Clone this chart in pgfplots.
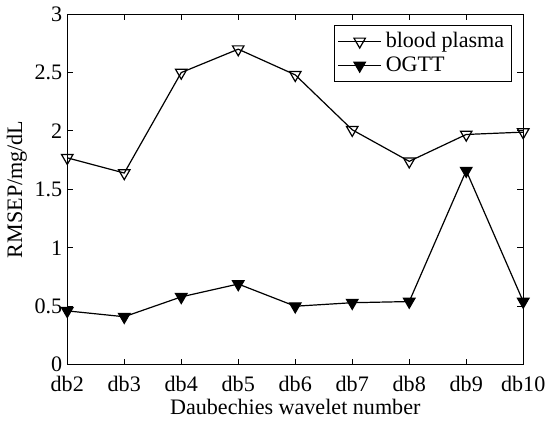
\documentclass[border=0pt]{standalone}
\usepackage{fontspec}
\setmainfont{Liberation Serif}
\usepackage{pgfplots}
\pgfplotsset{compat=1.18}

\begin{document}
\fontsize{10}{12}\selectfont
\begin{tikzpicture}
\begin{axis}[
    scale only axis,
    width=227pt,
    height=174.5pt,
    xmin=0, xmax=8,
    ymin=0, ymax=3,
    xtick={0,1,2,3,4,5,6,7,8},
    xticklabels={db2,db3,db4,db5,db6,db7,db8,db9,db10},
    ytick={0,0.5,1,1.5,2,2.5,3},
    yticklabels={0,0.5,1,1.5,2,2.5,3},
    tick align=inside,
    tick style={black, line width=0.5pt},
    major tick length=3pt,
    axis line style={line width=0.6pt},
    xlabel={Daubechies wavelet number},
    ylabel={RMSEP/mg/dL},
    xlabel style={yshift=3pt},
    ylabel style={yshift=-3pt},
    every tick label/.style={font=\fontsize{11}{12}\selectfont},
    every axis label/.style={font=\fontsize{11}{12}\selectfont},
    xticklabel style={yshift=-2pt},
    yticklabel style={xshift=1pt},
    legend style={at={(0.975,0.97)}, anchor=north east, draw=black,
        font=\fontsize{11}{12}\selectfont, inner sep=1.5pt,
        row sep=-1pt, line width=0.6pt, cells={anchor=west}},
    legend cell align=left,
    legend image code/.code={
        \draw[#1] (0cm,0cm) -- (0.75cm,0cm);
        \draw[#1, mark repeat=2, mark phase=2] plot coordinates {(0cm,0cm) (0.375cm,0cm) (0.75cm,0cm)};
    },
]
\addplot[black, line width=0.6pt, mark=triangle, mark size=3.3pt,
    mark options={rotate=180, fill=white, solid}] coordinates {
    (0,1.77) (1,1.64) (2,2.50) (3,2.70) (4,2.48) (5,2.01) (6,1.74) (7,1.97) (8,1.99)
};
\addlegendentry{blood plasma}
\addplot[black, line width=0.6pt, mark=triangle*, mark size=3.3pt,
    mark options={rotate=180, fill=black, solid}] coordinates {
    (0,0.46) (1,0.41) (2,0.58) (3,0.69) (4,0.50) (5,0.53) (6,0.54) (7,1.66) (8,0.54)
};
\addlegendentry{OGTT}
\end{axis}
\end{tikzpicture}
\end{document}
